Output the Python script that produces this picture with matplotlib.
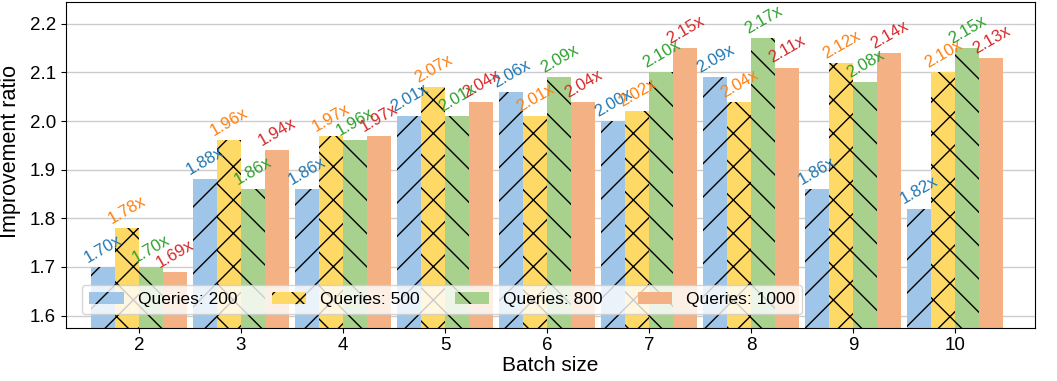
from matplotlib import pyplot as plt
import numpy as np

plt.rcParams['font.family'] = ['Liberation Sans', 'DejaVu Sans']

batch_sizes = [2, 3, 4, 5, 6, 7, 8, 9, 10]
q200 = [1.70, 1.88, 1.86, 2.01, 2.06, 2.00, 2.09, 1.86, 1.82]
q500 = [1.78, 1.96, 1.97, 2.07, 2.01, 2.02, 2.04, 2.12, 2.10]
q800 = [1.70, 1.86, 1.96, 2.01, 2.09, 2.10, 2.17, 2.08, 2.15]
q1000 = [1.69, 1.94, 1.97, 2.04, 2.04, 2.15, 2.11, 2.14, 2.13]
series_labels = ['Queries: 200', 'Queries: 500', 'Queries: 800', 'Queries: 1000']

fills = ['#9fc5e8', '#ffd966', '#a9d18e', '#f4b183']
text_colors = ['tab:blue', 'tab:orange', 'tab:green', 'tab:red']
hatches = ['/', 'x', '\\', '']

fig, ax = plt.subplots(figsize=(10.57, 3.81), dpi=100)
x = np.array(batch_sizes)
width = 0.235
all_series = [q200, q500, q800, q1000]

for i, vals in enumerate(all_series):
    pos = x + (i - 1.5) * width
    ax.bar(pos, vals, width, color=fills[i], hatch=hatches[i],
           edgecolor='black', linewidth=0, label=series_labels[i], zorder=2)
    for p, v in zip(pos, vals):
        ax.text(p, v + 0.003, f'{v:.2f}x', rotation=30, ha='center', va='bottom',
                color=text_colors[i], fontsize=12, zorder=3)

ax.set_ylim(1.575, 2.245)
ax.set_xlim(1.28, 10.78)
ax.set_xticks(batch_sizes)
ax.set_yticks([1.6, 1.7, 1.8, 1.9, 2.0, 2.1, 2.2])
ax.tick_params(labelsize=13.5)
ax.yaxis.grid(True, color='#cccccc', linewidth=1, zorder=0)
ax.set_axisbelow(True)
ax.set_xlabel('Batch size', fontsize=15, labelpad=1)
ax.set_ylabel('Improvement ratio', fontsize=15.5)
ax.yaxis.set_label_coords(-0.046, 0.54)
ax.legend(loc='lower left', ncol=4, fontsize=12.5, bbox_to_anchor=(0.008, 0.015),
          columnspacing=2.0, handlelength=2.0)

plt.subplots_adjust(left=0.062, right=0.979, top=0.995, bottom=0.14)
plt.savefig('out.png')
